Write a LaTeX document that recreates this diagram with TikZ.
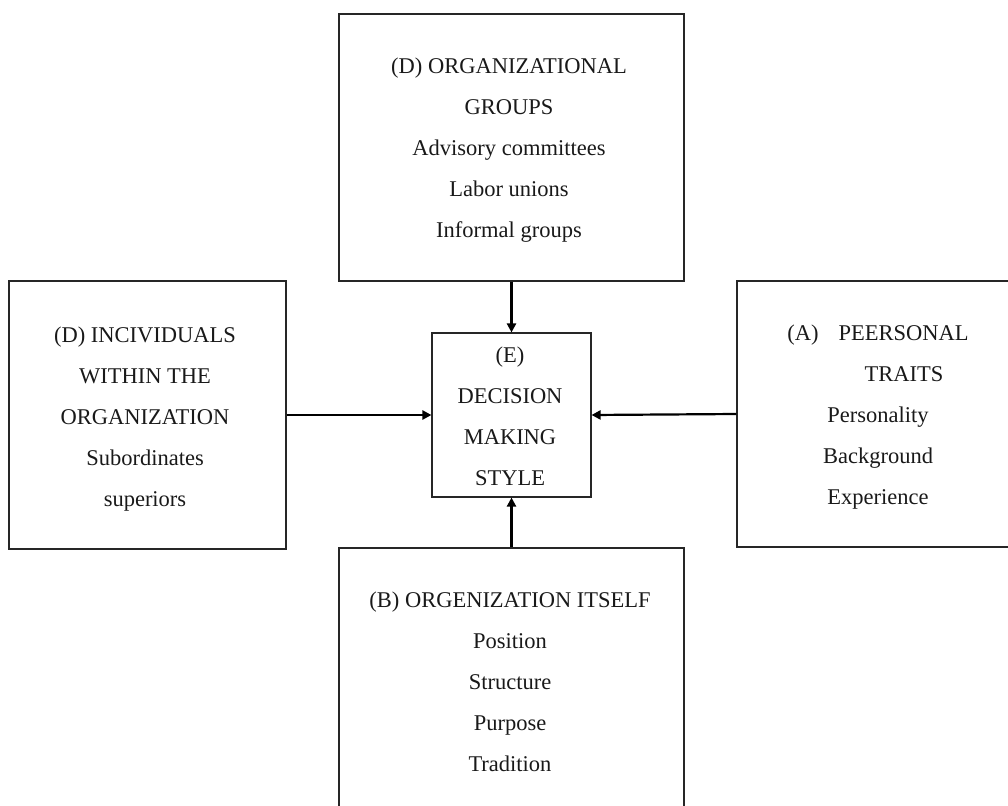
\documentclass[tikz,border=0pt]{standalone}
\usepackage{fontspec}
\setmainfont{Liberation Serif}
\usetikzlibrary{arrows.meta}
\begin{document}
\begin{tikzpicture}[x=1pt,y=-1pt,
  box/.style={draw=black!85, line width=1.1pt, rectangle, inner sep=0pt},
  txt/.style={align=center, font=\fontsize{22.5}{41}\selectfont, inner sep=0pt, text=black!90},
  conn/.style={draw=black, line width=2.2pt, -{Triangle[length=9pt,width=9pt]}}]
\useasboundingbox (0,0) rectangle (1008,805);
\clip (0,0) rectangle (1008,805);
% boxes
\node[box, minimum width=345pt, minimum height=267pt] (topbox) at (511.5,147.5) {};
\node[box, minimum width=277pt, minimum height=268pt] (leftbox) at (147.5,415) {};
\node[box, minimum width=159pt, minimum height=164pt] (center) at (511.5,415) {};
\node[box, minimum width=275pt, minimum height=266pt] (rightbox) at (874.5,414) {};
\node[box, minimum width=345pt, minimum height=272pt] (botbox) at (511.5,684) {};
% texts
\node[txt] (toptext) at (509,150.5) {(D) ORGANIZATIONAL\\GROUPS\\Advisory committees\\Labor unions\\Informal groups};
\node[txt] (lefttext) at (145,419) {(D) INCIVIDUALS\\WITHIN THE\\ORGANIZATION\\Subordinates\\superiors};
\node[txt] (centertext) at (510,416) {(E)\\DECISION\\MAKING\\STYLE};
\node[txt] (righttext) at (878,417) {(A)\hspace{20pt}PEERSONAL\\\hspace*{52pt}TRAITS\\Personality\\Background\\Experience};
\node[txt] (bottext) at (510,681.5) {(B) ORGENIZATION ITSELF\\Position\\Structure\\Purpose\\Tradition};
% connectors
\draw[conn] (topbox.south) -- (center.north);
\draw[conn] (leftbox.east) -- (center.west);
\draw[conn] (rightbox.west) -- (center.east);
\draw[conn] (botbox.north) -- (center.south);
\end{tikzpicture}
\end{document}
